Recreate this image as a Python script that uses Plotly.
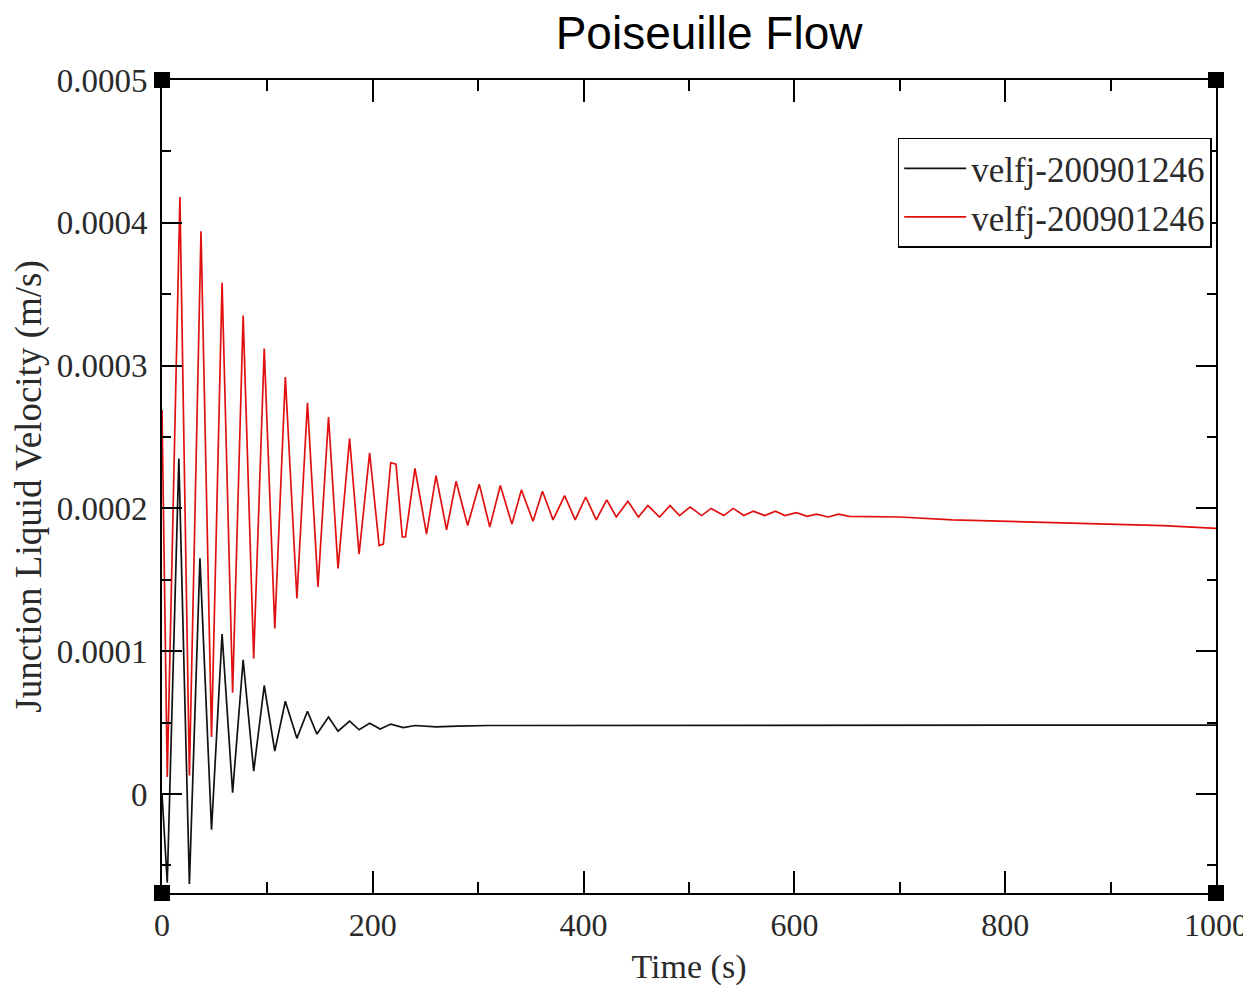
import plotly.graph_objects as go

# ---------------- data ----------------
series_names = ["velfj-200901246", "velfj-200901246"]

time_black = [0, 5, 16, 26, 36, 47, 57, 67, 77, 87, 97, 107, 117, 128, 138, 147,
              158, 167, 178, 187, 197, 207, 217, 229, 240, 260, 280, 310, 1000]
vel_black = [0.0e-4, -0.62e-4, 2.35e-4, -0.63e-4, 1.65e-4, -0.25e-4, 1.12e-4, 0.01e-4,
             0.94e-4, 0.16e-4, 0.76e-4, 0.30e-4, 0.65e-4, 0.39e-4, 0.58e-4, 0.42e-4,
             0.54e-4, 0.44e-4, 0.51e-4, 0.45e-4, 0.495e-4, 0.455e-4, 0.49e-4, 0.465e-4,
             0.48e-4, 0.47e-4, 0.475e-4, 0.48e-4, 0.483e-4]

time_red = [0, 5, 17, 26, 37, 47, 57, 67, 77, 87, 97, 107, 117, 128, 138, 148, 158,
            167, 178, 187, 197, 206, 210, 217, 222, 228, 231, 240, 251, 260, 270, 279,
            290, 301, 311, 321, 332, 341, 352, 361, 371, 382, 392, 402, 412, 422, 431,
            442, 452, 461, 472, 482, 491, 501, 512, 521, 533, 542, 552, 561, 572, 582,
            591, 602, 612, 621, 632, 642, 652, 700, 750, 800, 870, 950, 1000]
vel_red = [2.69e-4, 0.12e-4, 4.18e-4, 0.13e-4, 3.94e-4, 0.40e-4, 3.58e-4, 0.71e-4,
           3.35e-4, 0.95e-4, 3.12e-4, 1.16e-4, 2.92e-4, 1.37e-4, 2.74e-4, 1.45e-4,
           2.64e-4, 1.58e-4, 2.49e-4, 1.68e-4, 2.39e-4, 1.74e-4, 1.75e-4, 2.32e-4,
           2.31e-4, 1.80e-4, 1.80e-4, 2.28e-4, 1.82e-4, 2.23e-4, 1.85e-4, 2.19e-4,
           1.88e-4, 2.17e-4, 1.87e-4, 2.16e-4, 1.89e-4, 2.13e-4, 1.91e-4, 2.12e-4,
           1.92e-4, 2.09e-4, 1.92e-4, 2.08e-4, 1.92e-4, 2.06e-4, 1.94e-4, 2.05e-4,
           1.94e-4, 2.02e-4, 1.94e-4, 2.02e-4, 1.95e-4, 2.01e-4, 1.95e-4, 2.00e-4,
           1.95e-4, 2.00e-4, 1.95e-4, 1.98e-4, 1.95e-4, 1.98e-4, 1.95e-4, 1.97e-4,
           1.945e-4, 1.96e-4, 1.94e-4, 1.96e-4, 1.945e-4, 1.94e-4, 1.92e-4, 1.91e-4,
           1.90e-4, 1.88e-4, 1.86e-4]

x_tick_vals = [0, 200, 400, 600, 800, 1000]
x_tick_text = ["0", "200", "400", "600", "800", "1000"]
y_tick_vals = [0, 0.0001, 0.0002, 0.0003, 0.0004, 0.0005]
y_tick_text = ["0", "0.0001", "0.0002", "0.0003", "0.0004", "0.0005"]

# ---------------- figure ----------------
SERIF = "Liberation Serif, DejaVu Serif, serif"
TXT = "#2a2a2a"

fig = go.Figure()
fig.add_trace(go.Scatter(x=time_black, y=vel_black, mode="lines", name=series_names[0],
                         line=dict(color="#111111", width=1.7)))
fig.add_trace(go.Scatter(x=time_red, y=vel_red, mode="lines", name=series_names[1],
                         line=dict(color="#e01010", width=1.7)))

axis_common = dict(
    showline=True, linecolor="black", linewidth=2, mirror="ticks",
    ticks="inside", tickcolor="black", tickwidth=1.5,
    showgrid=False, zeroline=False, automargin=False,
)

fig.update_xaxes(
    **axis_common,
    range=[0, 1000], tickvals=x_tick_vals, ticktext=x_tick_text, ticklen=22,
    tickfont=dict(family=SERIF, size=32, color=TXT),
    minor=dict(dtick=100, ticks="inside", ticklen=11, tickcolor="black", tickwidth=1.5),
    title=dict(text="Time (s)", font=dict(family=SERIF, size=34, color=TXT), standoff=12),
    ticklabelstandoff=3,
)
fig.update_yaxes(
    **axis_common,
    range=[-0.0000693, 0.0005], tickvals=y_tick_vals, ticktext=y_tick_text, ticklen=20,
    tickfont=dict(family=SERIF, size=33, color=TXT),
    minor=dict(dtick=0.00005, tick0=0, ticks="inside", ticklen=9, tickcolor="black", tickwidth=1.5),
    title=dict(text="Junction Liquid Velocity (m/s)",
               font=dict(family=SERIF, size=37, color=TXT), standoff=10),
    ticklabelstandoff=6,
)

# black corner squares
corner_shapes = []
for cx in (0, 1):
    for cy in (0, 1):
        corner_shapes.append(dict(
            type="rect", xref="x domain", yref="y domain",
            xsizemode="pixel", ysizemode="pixel", xanchor=cx, yanchor=cy,
            x0=-8, x1=8, y0=-8, y1=8,
            fillcolor="black", line=dict(width=0), layer="above"))

fig.update_layout(
    template="none",
    width=1251, height=995,
    margin=dict(l=154, r=43, t=72, b=110),
    paper_bgcolor="white", plot_bgcolor="white",
    title=dict(text="Poiseuille Flow", xref="container", yref="container",
               x=0.5604, xanchor="center", y=0.991, yanchor="top",
               font=dict(family="Liberation Sans, Arial, sans-serif", size=46, color="black")),
    legend=dict(x=0.698, y=0.929, xanchor="left", yanchor="top",
                bgcolor="white", bordercolor="black", borderwidth=1.5,
                font=dict(family=SERIF, size=35, color=TXT),
                itemwidth=62, tracegroupgap=0),
    shapes=corner_shapes,
    showlegend=True,
)

fig.write_html("out.html")
